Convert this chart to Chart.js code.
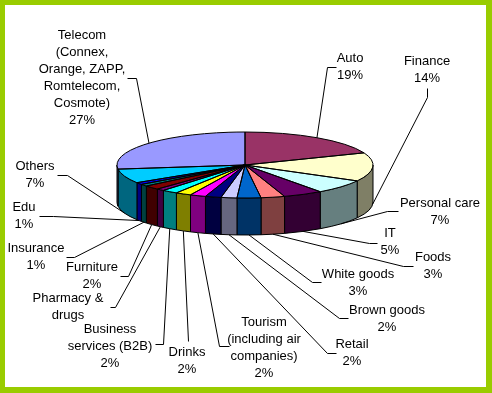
<!DOCTYPE html>
<html>
<head>
<meta charset="utf-8">
<script src="https://cdn.jsdelivr.net/npm/chart.js@4/dist/chart.umd.min.js"></script>
<style>
html,body{margin:0;padding:0;background:#fff;}
canvas{display:block;}
</style>
</head>
<body>
<canvas id="c" width="492" height="393"></canvas>
<script>
// ---- data ----
const categories = [
  "Auto", "Finance", "Personal care", "IT", "Foods", "White goods", "Brown goods", "Retail",
  "Tourism\n(including air\ncompanies)", "Drinks", "Business\nservices (B2B)", "Pharmacy &\ndrugs",
  "Furniture", "Insurance", "Edu", "Others",
  "Telecom\n(Connex,\nOrange, ZAPP,\nRomtelecom,\nCosmote)"
];
const shares = [19, 14, 7, 5, 3, 3, 2, 2, 2, 2, 2, 1, 2, 1, 1, 7, 27];
const showPercent = [true, true, true, true, true, true, true, true, true, true, true, false, true, true, true, true, true];

// ---- style / layout ----
const sliceColors = ["#993366", "#FFFFCC", "#CCFFFF", "#660066", "#FF8080", "#0066CC", "#CCCCFF", "#000080",
  "#FF00FF", "#FFFF00", "#00FFFF", "#800080", "#800000", "#008080", "#0000FF", "#00CCFF", "#9999FF"];
// label text centre x, first line centre y, leader polyline points from label side
const labelLayout = [
  {x: 350, y: 58,  lead: [[336, 67], [327, 67]]},
  {x: 427, y: 61,  lead: [[427, 88], [427, 97]]},
  {x: 440, y: 203, lead: [[398, 211], [387, 211]]},
  {x: 390, y: 233, lead: [[377, 243], [369, 243]]},
  {x: 433, y: 257, lead: [[413, 266], [403, 266]]},
  {x: 358, y: 274, lead: [[321, 282], [312, 282]]},
  {x: 387, y: 310, lead: [[348, 318], [339, 318]]},
  {x: 352, y: 344, lead: [[336, 353], [327, 353]]},
  {x: 264, y: 322, lead: [[229, 346], [219, 346]]},
  {x: 187, y: 352, lead: [[188, 341]]},
  {x: 110, y: 329, lead: [[155, 344], [163, 344]]},
  {x: 68,  y: 298, lead: [[110, 307], [115, 307]]},
  {x: 92,  y: 267, lead: [[120, 276], [128, 276]]},
  {x: 36,  y: 248, lead: [[66, 257], [74, 257]]},
  {x: 24,  y: 207, lead: [[39, 216], [53, 216]]},
  {x: 35,  y: 166, lead: [[57, 175], [67, 175]]},
  {x: 82,  y: 35,  lead: [[127, 78], [136, 78]]}
];
const TILT = 33 / 128;
const DEPTH = 37;
const LINE_H = 17;
const FONT = '13px "Liberation Sans", Arial, sans-serif';

function dark(hex) {
  const n = parseInt(hex.slice(1), 16);
  const r = (n >> 16) & 255, g = (n >> 8) & 255, b = n & 255;
  return 'rgb(' + (r >> 1) + ',' + (g >> 1) + ',' + (b >> 1) + ')';
}

function geom(chart) {
  const a0 = chart.getDatasetMeta(0).data[0];
  return {cx: a0.x, cy: a0.y, rx: a0.outerRadius, ry: a0.outerRadius * TILT};
}

const pie3d = {
  id: 'pie3d',
  beforeDraw(chart) {
    const ctx = chart.ctx;
    ctx.save();
    ctx.fillStyle = '#99CC00';
    ctx.fillRect(0, 0, chart.width, chart.height);
    ctx.fillStyle = '#FFFFFF';
    ctx.fillRect(5, 5, 481, 382);
    ctx.restore();
  },
  beforeDatasetsDraw(chart) {
    const ctx = chart.ctx;
    const arcs = chart.getDatasetMeta(0).data;
    const g = geom(chart);
    ctx.save();
    ctx.lineWidth = 1;
    ctx.strokeStyle = '#000';
    arcs.forEach((arc, i) => {
      const s = Math.max(arc.startAngle, 0), e = Math.min(arc.endAngle, Math.PI);
      if (e <= s) return;
      ctx.beginPath();
      ctx.ellipse(g.cx, g.cy, g.rx, g.ry, 0, s, e, false);
      ctx.lineTo(g.cx + g.rx * Math.cos(e), g.cy + DEPTH + g.ry * Math.sin(e));
      ctx.ellipse(g.cx, g.cy + DEPTH, g.rx, g.ry, 0, e, s, true);
      ctx.closePath();
      ctx.fillStyle = dark(sliceColors[i]);
      ctx.fill();
      ctx.stroke();
    });
    ctx.restore();
    ctx.save();
    ctx.translate(g.cx, g.cy);
    ctx.scale(1, TILT);
    ctx.translate(-g.cx, -g.cy);
  },
  afterDatasetsDraw(chart) {
    const ctx = chart.ctx;
    ctx.restore();
    const arcs = chart.getDatasetMeta(0).data;
    const g = geom(chart);
    const total = shares.reduce((a, b) => a + b, 0);
    ctx.save();
    ctx.lineWidth = 1;
    ctx.strokeStyle = '#000';
    arcs.forEach((arc) => {
      const s = arc.startAngle, e = arc.endAngle;
      ctx.beginPath();
      ctx.moveTo(g.cx, g.cy);
      ctx.lineTo(g.cx + g.rx * Math.cos(s), g.cy + g.ry * Math.sin(s));
      ctx.ellipse(g.cx, g.cy, g.rx, g.ry, 0, s, e, false);
      ctx.closePath();
      ctx.stroke();
    });
    // labels and leader lines
    ctx.font = FONT;
    ctx.fillStyle = '#000';
    ctx.textAlign = 'center';
    ctx.textBaseline = 'middle';
    arcs.forEach((arc, i) => {
      const L = labelLayout[i];
      const mid = (arc.startAngle + arc.endAngle) / 2;
      let ax = g.cx + g.rx * Math.cos(mid);
      let ay = g.cy + g.ry * Math.sin(mid);
      if (Math.sin(mid) > 0) ay += DEPTH;
      ctx.beginPath();
      ctx.moveTo(L.lead[0][0] + 0.5, L.lead[0][1] + 0.5);
      for (let k = 1; k < L.lead.length; k++) ctx.lineTo(L.lead[k][0] + 0.5, L.lead[k][1] + 0.5);
      ctx.lineTo(ax, ay);
      ctx.stroke();
      const lines = categories[i].split('\n');
      if (showPercent[i]) lines.push(Math.round(shares[i] / total * 100) + '%');
      lines.forEach((t, k) => ctx.fillText(t, L.x, L.y + k * LINE_H));
    });
    ctx.restore();
  }
};

new Chart(document.getElementById('c'), {
  type: 'pie',
  data: {
    labels: categories,
    datasets: [{
      data: shares,
      backgroundColor: sliceColors,
      borderWidth: 0,
      clip: false
    }]
  },
  options: {
    responsive: false,
    animation: false,
    devicePixelRatio: 1,
    events: [],
    layout: {padding: {left: 117, right: 119, top: 37, bottom: 100}},
    plugins: {legend: {display: false}, tooltip: {enabled: false}}
  },
  plugins: [pie3d]
});
</script>
</body>
</html>
